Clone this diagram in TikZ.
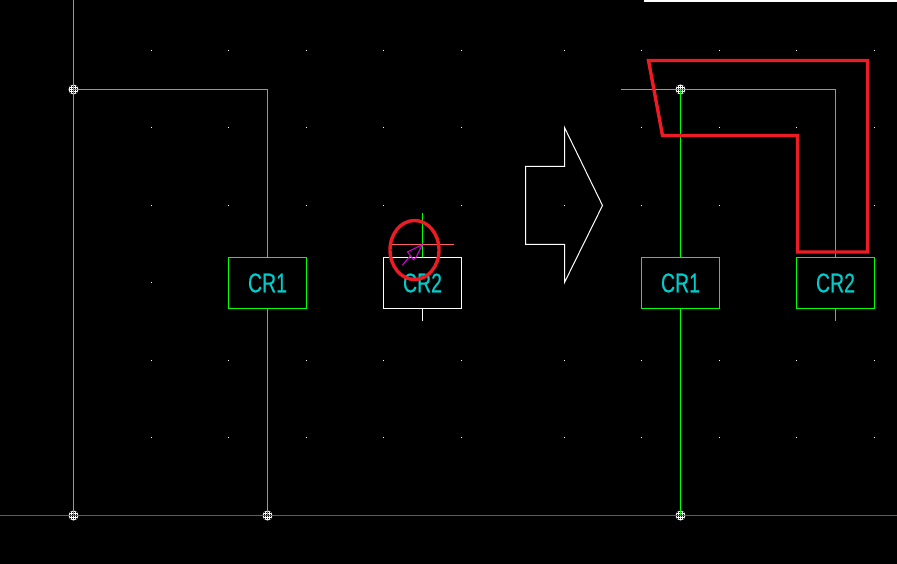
\documentclass[tikz,border=0pt]{standalone}
\usepackage{fontspec}
\usepackage{tikz}
\newfontfamily\crfont[FakeStretch=0.72,FakeBold=0.4]{Liberation Sans}
\definecolor{wire}{RGB}{0,255,0}
\definecolor{rail}{RGB}{224,0,224}
\definecolor{crtext}{RGB}{0,204,204}
\definecolor{markup}{RGB}{237,28,36}
\definecolor{hair}{RGB}{255,96,96}

\tikzset{
  crbox/.style={draw=wire, line width=1pt, minimum width=78pt, minimum height=51pt, inner sep=0pt, outer sep=0pt,
    text=crtext, font=\fontsize{27}{27}\crfont\selectfont},
  junction/.style={circle, fill=white, minimum size=10pt, inner sep=0pt, outer sep=0pt,
    path picture={
      \foreach \a in {-3,-1,1,3}
        \foreach \b in {-3,-1,1,3}
          \fill[black, shift={(path picture bounding box.center)}] ({\a-.5},{\b-.5}) rectangle +(1,1);
    }},
  wireline/.style={draw=wire, line width=1pt},
  railline/.style={draw=rail, line width=1pt},
  markupline/.style={draw=markup, line width=3.4pt, line join=miter}
}

\begin{document}
\begin{tikzpicture}[x=1pt, y=-1pt, node distance=155pt]

  \useasboundingbox (0,0) rectangle (897,564);
  \fill[black] (0,0) rectangle (897,564);
  \fill[white] (644,0) rectangle (897,2);

  % grid
  \foreach \x in {151,228,306,383,461,564,641,719,796,874}
    \foreach \y in {50,127,205,282,360,437}
      \fill[white] (\x,\y) rectangle +(1.4,1.4);

  \node[junction] (jLeftTop) at (73.5,89.5) {};
  \node[junction] (jLeftBot) at (73.5,515.5) {};
  \node[junction] (jMidBot) at (267.5,515.5) {};
  \node[junction] (jRightTop) at (680.5,89.5) {};
  \node[junction] (jRightBot) at (680.5,515.5) {};

  \coordinate (railW) at (0,515.5);
  \coordinate (railE) at (897,515.5);
  \coordinate (leftEnd) at (73.5,0);
  \coordinate (leftCorner) at (267.5,89.5);
  \coordinate (rightEnd) at (621,89.5);
  \coordinate (rightCorner) at (835.5,89.5);

  \node[crbox] (crOneL) at (267.5,283) {CR1};
  \node[crbox, draw=white] (crTwoL) [right of= crOneL] {CR2};
  \node[crbox] (crOneR) at (680.5,283) {CR1};
  \node[crbox] (crTwoR) [right of= crOneR] {CR2};

  \coordinate (stubTop) at (422.5,213);
  \coordinate (stubBot) at (422.5,321);
  \coordinate (stubEnd) at (835.5,321);

  % before
  \draw[wireline] (leftEnd) -- (jLeftBot.center);
  \draw[wireline] (jLeftTop.center) -- (leftCorner) -- (crOneL.north);
  \draw[wireline] (crOneL.south) -- (jMidBot.center);
  \draw[wireline] (stubTop) -- (crTwoL.north);
  \draw[draw=white, line width=1pt] (crTwoL.south) -- (stubBot);

  % after
  \draw[wireline] (rightEnd) -- (rightCorner) -- (crTwoR.north);
  \draw[wireline] (crTwoR.south) -- (stubEnd);
  \draw[wireline] (jRightTop.center) -- (crOneR.north);
  \draw[wireline] (crOneR.south) -- (jRightBot.center);

  \draw[railline] (railW) -- (railE);

  % big arrow
  \draw[white, line width=1pt] (525.5,166.5) -- (564.5,166.5) -- (564.5,127.5) -- (602.5,205.5)
    -- (564.5,282.5) -- (564.5,244.5) -- (525.5,244.5) -- cycle;

  % cursor
  \coordinate (cursorTip) at (422.5,244.5);
  \draw[draw=hair, line width=1pt] (392,244.5) -- (454,244.5);
  \draw[draw=rail, line width=1pt] (cursorTip) -- ++(-15,7.5) -- ++(6,7.5) -- ++(2.5,-2) -- cycle;
  \draw[draw=rail, line width=1pt] (411,255) -- (402.5,265);

  \draw[markupline] (414.5,250) ellipse [x radius=24.5, y radius=29.5];
  \draw[markupline] (648.5,60.5) -- (867.5,60.5) -- (867.5,252) -- (797.5,252) -- (797.5,135.5) -- (662.5,135.5) -- cycle;

\end{tikzpicture}
\end{document}
